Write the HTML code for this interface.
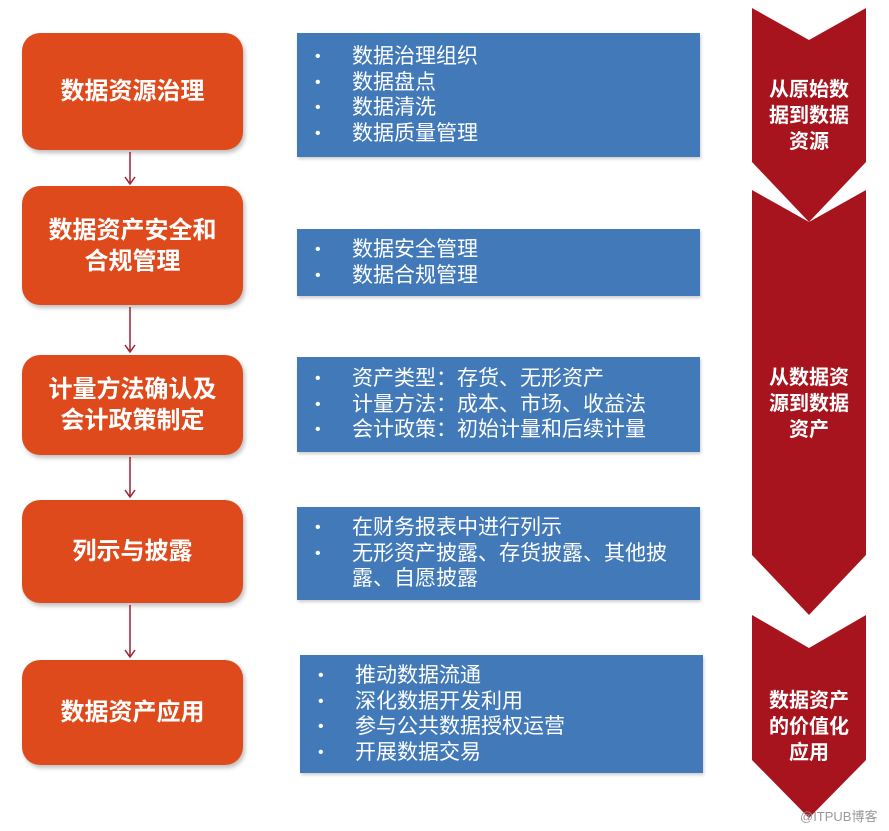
<!DOCTYPE html>
<html><head><meta charset="utf-8"><style>
body{margin:0;width:889px;height:831px;background:#fff;position:relative;overflow:hidden;font-family:"Liberation Sans","Noto Sans CJK SC",sans-serif}
.o{position:absolute;left:22px;width:221px;background:#df4a1c;border-radius:18px;color:#fff;font-weight:bold;font-size:24px;display:flex;align-items:center;justify-content:center;text-align:center;line-height:31px;box-shadow:2px 3px 4px rgba(0,0,0,.25)}
.b{position:absolute;left:297px;width:403px;background:#4279b9;color:#fff;font-size:21px;line-height:25.5px;box-sizing:border-box;padding-left:55px;display:flex;flex-direction:column;justify-content:center;box-shadow:1px 2px 3px rgba(0,0,0,.2)}
.b div{position:relative;white-space:nowrap}
.b div.l::before{content:"•";position:absolute;left:-37px;font-size:16px}
svg{position:absolute;left:0;top:0;z-index:2}
.c{position:absolute;left:752px;width:114px;text-align:center;color:#fff;font-weight:bold;font-size:20px;line-height:26px;z-index:3}
</style></head><body>
<svg width="889" height="831">
<g stroke="#a02030" stroke-width="1.5" fill="none">
<line x1="130" y1="152" x2="130" y2="184"/><path d="M125,177 L130,184 L135,177"/>
<line x1="130" y1="307" x2="130" y2="352"/><path d="M125,345 L130,352 L135,345"/>
<line x1="130" y1="457" x2="130" y2="497"/><path d="M125,490 L130,497 L135,490"/>
<line x1="130" y1="605" x2="130" y2="657"/><path d="M125,650 L130,657 L135,650"/>
</g>
<g fill="#a8141e">
<polygon points="752,8 809,40 866,8 866,162 809,222 752,162"/>
<polygon points="752,190 809,222 866,190 866,555 809,615 752,555"/>
<polygon points="752,615 809,648 866,615 866,760 809,818 752,760"/>
</g>
</svg>
<div class="o" style="top:33px;height:117px">数据资源治理</div>
<div class="o" style="top:186px;height:119px">数据资产安全和<br>合规管理</div>
<div class="o" style="top:355px;height:100px">计量方法确认及<br>会计政策制定</div>
<div class="o" style="top:500px;height:103px">列示与披露</div>
<div class="o" style="top:660px;height:105px">数据资产应用</div>

<div class="b" style="top:33px;height:124px"><div class="l">数据治理组织</div><div class="l">数据盘点</div><div class="l">数据清洗</div><div class="l">数据质量管理</div></div>
<div class="b" style="top:229px;height:67px"><div class="l">数据安全管理</div><div class="l">数据合规管理</div></div>
<div class="b" style="top:357px;height:95px"><div class="l">资产类型：存货、无形资产</div><div class="l">计量方法：成本、市场、收益法</div><div class="l">会计政策：初始计量和后续计量</div></div>
<div class="b" style="top:507px;height:93px"><div class="l">在财务报表中进行列示</div><div class="l">无形资产披露、存货披露、其他披</div><div>露、自愿披露</div></div>
<div class="b" style="top:655px;left:300px;height:118px"><div class="l">推动数据流通</div><div class="l">深化数据开发利用</div><div class="l">参与公共数据授权运营</div><div class="l">开展数据交易</div></div>

<div class="c" style="top:77px">从原始数<br>据到数据<br>资源</div>
<div class="c" style="top:365px">从数据资<br>源到数据<br>资产</div>
<div class="c" style="top:688px">数据资产<br>的价值化<br>应用</div>
<div style="position:absolute;left:800px;top:806px;font-size:13px;color:#999;z-index:3">@ITPUB博客</div>
</body></html>
